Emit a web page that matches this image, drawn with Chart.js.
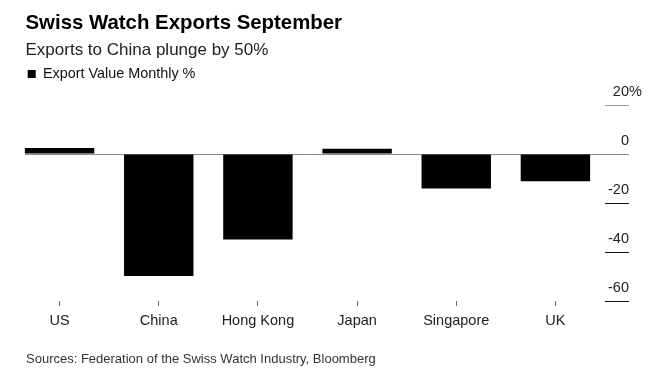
<!DOCTYPE html>
<html>
<head>
<meta charset="utf-8">
<script src="https://cdn.jsdelivr.net/npm/chart.js@4/dist/chart.umd.min.js"></script>
<style>
  html, body { margin: 0; padding: 0; background: #fff; }
  #wrap { position: relative; width: 653px; height: 386px; overflow: hidden; font-family: 'Liberation Sans', Arial, sans-serif; }
  #c { position: absolute; left: 0; top: 0; }
  .t { position: absolute; white-space: nowrap; }
  #title { left: 25.5px; top: 12px; font-size: 20.4px; line-height: 20px; font-weight: bold; color: #000; }
  #subtitle { left: 25.5px; top: 41px; font-size: 17px; line-height: 17px; color: #222; }
  #source { left: 26px; top: 352px; font-size: 13px; line-height: 13px; color: #333; }
</style>
</head>
<body>
<div id="wrap">
  <canvas id="c" width="653" height="386"></canvas>
  <div class="t" id="title">Swiss Watch Exports September</div>
  <div class="t" id="subtitle">Exports to China plunge by 50%</div>
  <div class="t" id="source">Sources: Federation of the Swiss Watch Industry, Bloomberg</div>
</div>
<script>
const categories = ['US', 'China', 'Hong Kong', 'Japan', 'Singapore', 'UK'];
const seriesName = 'Export Value Monthly %';
const exportValues = [2.5, -49.8, -34.9, 2.1, -14.1, -11.1];
const yTickValues = [20, 0, -20, -40, -60];

Chart.defaults.font.family = "'Liberation Sans', Arial, sans-serif";

const ZERO_COLOR = '#8a8a8a';

const legendGap = {
  id: 'legendGap',
  beforeLayout(chart) {
    const lg = chart.legend;
    if (lg && !lg._gapPatched) {
      const orig = lg.fit;
      lg.fit = function () { orig.call(this); this.height += 13.8; };
      lg._gapPatched = true;
    }
  }
};

const percentSuffix = {
  id: 'percentSuffix',
  afterDraw(chart) {
    const s = chart.scales.y;
    const t = s.ticks.find(k => k.value === yTickValues[0]);
    if (!t) return;
    const ctx = chart.ctx;
    ctx.save();
    ctx.font = "14.5px 'Liberation Sans', Arial, sans-serif";
    ctx.fillStyle = '#222';
    ctx.textAlign = 'left';
    ctx.textBaseline = 'middle';
    ctx.fillText('%', s.left + s.options.ticks.padding, s.getPixelForValue(t.value) + s.options.ticks.labelOffset);
    ctx.restore();
  }
};

// zero line starts at the left edge of the first bar
function zeroLineColor(c) {
  const chart = c.chart;
  const meta = chart.getDatasetMeta(0);
  const bar = meta && meta.data && meta.data[0];
  const area = chart.chartArea;
  if (!bar || !area || !isFinite(bar.x) || !isFinite(bar.width)) return ZERO_COLOR;
  const start = bar.x - bar.width / 2;
  const g = chart.ctx.createLinearGradient(area.left, 0, chart.width, 0);
  const f = Math.max(0, Math.min(1, (start - area.left) / (chart.width - area.left)));
  g.addColorStop(0, 'rgba(0,0,0,0)');
  g.addColorStop(Math.max(0, f - 0.0001), 'rgba(0,0,0,0)');
  g.addColorStop(f, ZERO_COLOR);
  g.addColorStop(1, ZERO_COLOR);
  return g;
}

new Chart(document.getElementById('c'), {
  type: 'bar',
  data: {
    labels: categories,
    datasets: [{
      label: seriesName,
      data: exportValues,
      backgroundColor: '#000',
      borderWidth: 0,
      barPercentage: 0.7,
      categoryPercentage: 1
    }]
  },
  options: {
    responsive: false,
    devicePixelRatio: 1,
    animation: false,
    layout: { padding: { left: 10, right: 24, top: 49.1, bottom: 50.6 } },
    plugins: {
      title: { display: false },
      tooltip: { enabled: false },
      legend: {
        display: true,
        position: 'top',
        align: 'start',
        labels: {
          boxWidth: 8, boxHeight: 8, padding: 17.7,
          color: '#111',
          font: { size: 14.4 }
        }
      }
    },
    scales: {
      x: {
        offset: true,
        border: { display: false },
        grid: { offset: false, drawOnChartArea: false, drawTicks: true, tickLength: 5, tickColor: '#666', lineWidth: 1 },
        ticks: { color: '#222', font: { size: 14.5 }, padding: 6, autoSkip: false, maxRotation: 0 }
      },
      y: {
        position: 'right',
        min: -60, max: 20,
        afterBuildTicks(scale) { scale.ticks = yTickValues.map(v => ({ value: v })); },
        afterFit(scale) { scale.width = 24; },
        border: { display: false },
        grid: {
          drawOnChartArea: true,
          drawTicks: true,
          tickLength: 24,
          lineWidth: 1,
          color: c => (c.tick && c.tick.value === 0) ? zeroLineColor(c) : 'rgba(0,0,0,0)',
          tickColor: c => {
            const v = c.tick ? c.tick.value : 0;
            if (v > 0) return '#999';
            if (v === 0) return ZERO_COLOR;
            return '#111';
          }
        },
        ticks: {
          mirror: true,
          padding: 24,
          labelOffset: -13,
          color: '#222',
          font: { size: 14.5 },
          callback: v => String(v)
        }
      }
    }
  },
  plugins: [legendGap, percentSuffix]
});
</script>
</body>
</html>
